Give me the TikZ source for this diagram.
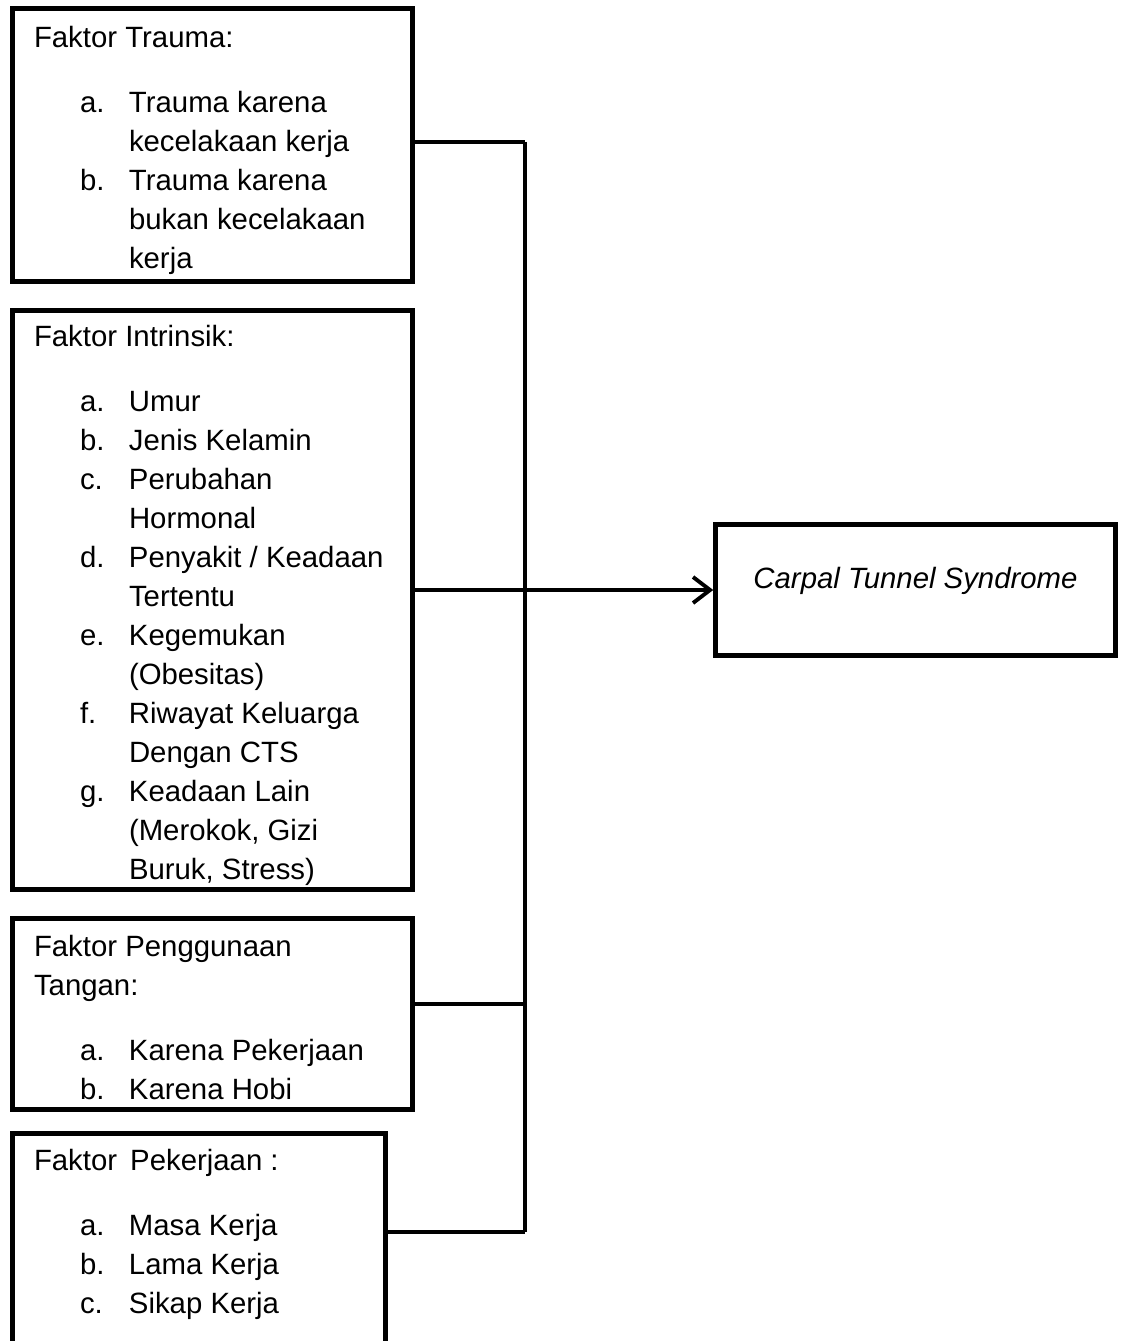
\documentclass[tikz,border=0pt]{standalone}
\usepackage{fontspec}
\setmainfont{Liberation Sans}
\usetikzlibrary{arrows.meta}
\newcommand{\itm}[2]{\hspace*{0.92cm}\makebox[0.98cm][l]{#1}#2}
\newcommand{\cont}[1]{\hspace*{1.9cm}#1}
\newcommand{\toprule}[1]{\rule{0pt}{#1}}
\tikzset{faktor/.style={draw,line width=2.6pt,align=flush left,inner xsep=0.43cm,inner ysep=0pt,
  font=\fontsize{16.7pt}{22.2pt}\selectfont}}
\begin{document}
\begin{tikzpicture}[]
\clip (0,0) rectangle (22.5,-26.82);

\node[faktor,text width=7.14cm,minimum height=5.46cm] (trauma) at (4.25,-2.9) {\toprule{18pt}Faktor Trauma:\\[0.52cm]
\itm{a.}{Trauma karena}\\ \cont{kecelakaan kerja}\\
\itm{b.}{Trauma karena}\\ \cont{bukan kecelakaan}\\ \cont{kerja}};

\node[faktor,text width=7.14cm,minimum height=11.58cm] (intrinsik) at (4.25,-12) {\toprule{18pt}Faktor Intrinsik:\\[0.52cm]
\itm{a.}{Umur}\\
\itm{b.}{Jenis Kelamin}\\
\itm{c.}{Perubahan}\\ \cont{Hormonal}\\
\itm{d.}{Penyakit / Keadaan}\\ \cont{Tertentu}\\
\itm{e.}{Kegemukan}\\ \cont{(Obesitas)}\\
\itm{f.}{Riwayat Keluarga}\\ \cont{Dengan CTS}\\
\itm{g.}{Keadaan Lain}\\ \cont{(Merokok, Gizi}\\ \cont{Buruk, Stress)}};

\node[faktor,text width=7.14cm,minimum height=3.82cm] (tangan) at (4.25,-20.28) {\toprule{16pt}Faktor Penggunaan\\ Tangan:\\[0.52cm]
\itm{a.}{Karena Pekerjaan}\\
\itm{b.}{Karena Hobi}};

\node[faktor,text width=6.6cm,minimum height=4.7cm] (pekerjaan) at (3.98,-25.02) {Faktor\, Pekerjaan :\\[0.52cm]
\itm{a.}{Masa Kerja}\\
\itm{b.}{Lama Kerja}\\
\itm{c.}{Sikap Kerja}\\ \mbox{}};

\node[draw,line width=2.6pt,minimum width=8cm,minimum height=2.62cm,text depth=0.5cm,
  font=\fontsize{16.7pt}{22.2pt}\selectfont\itshape] (cts) at (18.31,-11.8) {Carpal Tunnel Syndrome};

\coordinate (bt) at (10.5,-2.84);
\coordinate (j3) at (10.5,-20.08);
\coordinate (bb) at (10.5,-24.64);

\draw[line width=2pt] (bt) -- (bb);
\draw[line width=2.2pt] (trauma.east |- bt) -- (bt);
\draw[line width=2.2pt] (tangan.east |- j3) -- (j3);
\draw[line width=2.2pt] (pekerjaan.east |- bb) -- (bb);
\draw[line width=2.2pt,-{Straight Barb[length=0.34cm,width=0.52cm]}] (intrinsik.east |- cts.west) -- (cts.west);
\end{tikzpicture}
\end{document}
